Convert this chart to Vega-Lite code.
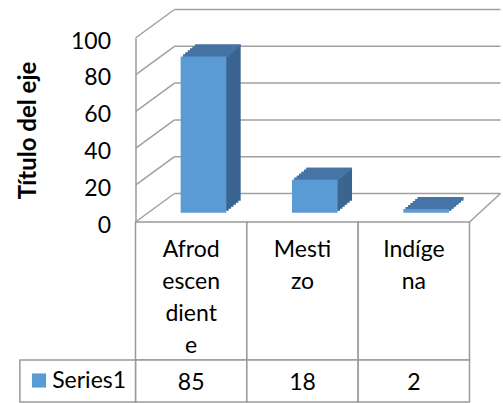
{
  "$schema": "https://vega.github.io/schema/vega-lite/v6.json",
  "background": "white",
  "padding": {"left": 15.5, "top": 8, "right": 0, "bottom": 0},
  "config": {"font": "Lato", "view": {"stroke": null}},
  "datasets": {
    "series": [
      {"category": "Afrodescendiente", "label": "Afrod\nescen\ndient\ne", "value": 85, "series": "Series1"},
      {"category": "Mestizo", "label": "Mesti\nzo", "value": 18, "series": "Series1"},
      {"category": "Indígena", "label": "Indíge\nna", "value": 2, "series": "Series1"}
    ],
    "ticks": [{"value": 0}, {"value": 20}, {"value": 40}, {"value": 60}, {"value": 80}, {"value": 100}]
  },
  "vconcat": [
    {
      "width": 334,
      "height": 184,
      "encoding": {
        "y": {
          "field": "value", "type": "quantitative",
          "scale": {"domain": [0, 100], "nice": false},
          "axis": {
            "title": "Título del eje", "titleFontWeight": "bold", "titleFontSize": 24, "titleColor": "black",
            "titlePadding": 30,
            "values": [0, 20, 40, 60, 80, 100],
            "labelFontSize": 23, "labelColor": "black", "labelPadding": 25, "labelOffset": 3,
            "ticks": false, "grid": false, "domainColor": "#9a9a9a", "domainWidth": 1.5
          }
        }
      },
      "layer": [
        {
          "data": {"name": "ticks"},
          "mark": {"type": "rule", "color": "#a0a0a0", "strokeWidth": 1.5, "xOffset": 39, "x2Offset": 31, "yOffset": -28.5},
          "encoding": {
            "x": {"datum": 0, "type": "quantitative", "scale": {"domain": [0, 1]}, "axis": null},
            "x2": {"datum": 1}
          }
        },
        {
          "data": {"name": "ticks"},
          "mark": {"type": "rule", "color": "#a0a0a0", "strokeWidth": 1.5, "x2Offset": 39, "y2Offset": -28.5},
          "encoding": {
            "x": {"datum": 0, "type": "quantitative", "scale": {"domain": [0, 1]}, "axis": null},
            "x2": {"datum": 0},
            "y2": {"field": "value"}
          }
        },
        {
          "data": {"name": "ticks"},
          "transform": [{"filter": "datum.value == 0"}],
          "mark": {"type": "rule", "color": "#a0a0a0", "strokeWidth": 1.5, "x2Offset": 31, "y2Offset": -28.5},
          "encoding": {
            "x": {"datum": 1, "type": "quantitative", "scale": {"domain": [0, 1]}, "axis": null},
            "x2": {"datum": 1},
            "y2": {"field": "value"}
          }
        },
        {"data": {"name": "series"}, "mark": {"type": "bar", "color": "#3B6590", "width": {"band": 0.41}, "xOffset": 26.7, "yOffset": -21.2, "y2Offset": -21.2},
         "encoding": {"x": {"field": "category", "type": "nominal", "sort": null, "scale": {"paddingInner": 0, "paddingOuter": 0}, "axis": null}}},
        {"data": {"name": "series"}, "mark": {"type": "bar", "color": "#3B6590", "width": {"band": 0.41}, "xOffset": 24.3, "yOffset": -19.2, "y2Offset": -19.2},
         "encoding": {"x": {"field": "category", "type": "nominal", "sort": null, "scale": {"paddingInner": 0, "paddingOuter": 0}, "axis": null}}},
        {"data": {"name": "series"}, "mark": {"type": "bar", "color": "#3B6590", "width": {"band": 0.41}, "xOffset": 21.9, "yOffset": -17.2, "y2Offset": -17.2},
         "encoding": {"x": {"field": "category", "type": "nominal", "sort": null, "scale": {"paddingInner": 0, "paddingOuter": 0}, "axis": null}}},
        {"data": {"name": "series"}, "mark": {"type": "bar", "color": "#3B6590", "width": {"band": 0.41}, "xOffset": 19.5, "yOffset": -15.2, "y2Offset": -15.2},
         "encoding": {"x": {"field": "category", "type": "nominal", "sort": null, "scale": {"paddingInner": 0, "paddingOuter": 0}, "axis": null}}},
        {"data": {"name": "series"}, "mark": {"type": "bar", "color": "#3B6590", "width": {"band": 0.41}, "xOffset": 17.1, "yOffset": -13.2, "y2Offset": -13.2},
         "encoding": {"x": {"field": "category", "type": "nominal", "sort": null, "scale": {"paddingInner": 0, "paddingOuter": 0}, "axis": null}}},
        {"data": {"name": "series"}, "mark": {"type": "bar", "color": "#3B6590", "width": {"band": 0.41}, "xOffset": 14.7, "yOffset": -11.2, "y2Offset": -11.2},
         "encoding": {"x": {"field": "category", "type": "nominal", "sort": null, "scale": {"paddingInner": 0, "paddingOuter": 0}, "axis": null}}},
        {"data": {"name": "series"}, "mark": {"type": "bar", "color": "#4774A6", "width": {"band": 0.41}, "xOffset": 26.7, "yOffset": -21.2, "y2Offset": -18.9},
         "encoding": {"x": {"field": "category", "type": "nominal", "sort": null, "scale": {"paddingInner": 0, "paddingOuter": 0}, "axis": null}, "y2": {"field": "value"}}},
        {"data": {"name": "series"}, "mark": {"type": "bar", "color": "#4774A6", "width": {"band": 0.41}, "xOffset": 24.3, "yOffset": -19.2, "y2Offset": -16.9},
         "encoding": {"x": {"field": "category", "type": "nominal", "sort": null, "scale": {"paddingInner": 0, "paddingOuter": 0}, "axis": null}, "y2": {"field": "value"}}},
        {"data": {"name": "series"}, "mark": {"type": "bar", "color": "#4774A6", "width": {"band": 0.41}, "xOffset": 21.9, "yOffset": -17.2, "y2Offset": -14.9},
         "encoding": {"x": {"field": "category", "type": "nominal", "sort": null, "scale": {"paddingInner": 0, "paddingOuter": 0}, "axis": null}, "y2": {"field": "value"}}},
        {"data": {"name": "series"}, "mark": {"type": "bar", "color": "#4774A6", "width": {"band": 0.41}, "xOffset": 19.5, "yOffset": -15.2, "y2Offset": -12.9},
         "encoding": {"x": {"field": "category", "type": "nominal", "sort": null, "scale": {"paddingInner": 0, "paddingOuter": 0}, "axis": null}, "y2": {"field": "value"}}},
        {"data": {"name": "series"}, "mark": {"type": "bar", "color": "#4774A6", "width": {"band": 0.41}, "xOffset": 17.1, "yOffset": -13.2, "y2Offset": -10.9},
         "encoding": {"x": {"field": "category", "type": "nominal", "sort": null, "scale": {"paddingInner": 0, "paddingOuter": 0}, "axis": null}, "y2": {"field": "value"}}},
        {"data": {"name": "series"}, "mark": {"type": "bar", "color": "#4774A6", "width": {"band": 0.41}, "xOffset": 14.7, "yOffset": -11.2, "y2Offset": -8.9},
         "encoding": {"x": {"field": "category", "type": "nominal", "sort": null, "scale": {"paddingInner": 0, "paddingOuter": 0}, "axis": null}, "y2": {"field": "value"}}},
        {"data": {"name": "series"}, "mark": {"type": "bar", "color": "#5B9BD5", "width": {"band": 0.41}, "xOffset": 12.3, "yOffset": -9.2, "y2Offset": -9.2},
         "encoding": {"x": {"field": "category", "type": "nominal", "sort": null, "scale": {"paddingInner": 0, "paddingOuter": 0}, "axis": null}}}
      ],
      "resolve": {"scale": {"x": "independent"}, "axis": {"x": "independent"}}
    },
    {
      "width": 334,
      "height": 138,
      "data": {"name": "series"},
      "encoding": {
        "x": {"field": "category", "type": "nominal", "sort": null, "scale": {"paddingInner": 0, "paddingOuter": 0}, "axis": null}
      },
      "layer": [
        {"mark": {"type": "rect", "fill": "white", "stroke": "#9a9a9a", "strokeWidth": 1.5}},
        {"mark": {"type": "text", "fontSize": 23, "color": "black", "baseline": "top", "lineBreak": "\n", "lineHeight": 32, "dy": -52},
         "encoding": {"text": {"field": "label"}}}
      ]
    },
    {
      "width": 334,
      "height": 42,
      "data": {"name": "series"},
      "layer": [
        {"mark": {"type": "rect", "fill": "white", "stroke": "#9a9a9a", "strokeWidth": 1.5},
         "encoding": {"x": {"field": "category", "type": "nominal", "sort": null, "scale": {"paddingInner": 0, "paddingOuter": 0}, "axis": null}}},
        {"transform": [{"filter": "datum.category == 'Afrodescendiente'"}],
         "mark": {"type": "rect", "fill": "white", "stroke": "#9a9a9a", "strokeWidth": 1.5, "xOffset": -115.6},
         "encoding": {
           "x": {"datum": 0, "type": "quantitative", "scale": {"domain": [0, 1]}, "axis": null},
           "x2": {"datum": 0}
         }},
        {"mark": {"type": "text", "fontSize": 23, "color": "black", "baseline": "middle", "dy": 2},
         "encoding": {
           "x": {"field": "category", "type": "nominal", "sort": null, "scale": {"paddingInner": 0, "paddingOuter": 0}, "axis": null},
           "text": {"field": "value", "type": "quantitative"}
         }},
        {"mark": {"type": "rect", "opacity": 0},
         "encoding": {
           "x": {"field": "category", "type": "nominal", "sort": null, "scale": {"paddingInner": 0, "paddingOuter": 0}, "axis": null},
           "color": {
             "field": "series", "type": "nominal",
             "scale": {"range": ["#5B9BD5"]},
             "legend": {
               "orient": "left", "title": null, "offset": 0, "padding": 9,
               "symbolType": "square", "symbolSize": 200, "symbolStrokeWidth": 0,
               "labelFontSize": 23, "labelColor": "black", "labelOffset": 1.7, "labelLimit": 200,
               "encode": {
                 "symbols": {"update": {"opacity": {"value": 1}, "fillOpacity": {"value": 1}, "fill": {"value": "#5B9BD5"}}}
               }
             }
           }
         }}
      ],
      "resolve": {"scale": {"x": "independent"}, "axis": {"x": "independent"}}
    }
  ],
  "spacing": 0,
  "bounds": "flush",
  "resolve": {"legend": {"color": "independent"}, "scale": {"color": "independent"}}
}
